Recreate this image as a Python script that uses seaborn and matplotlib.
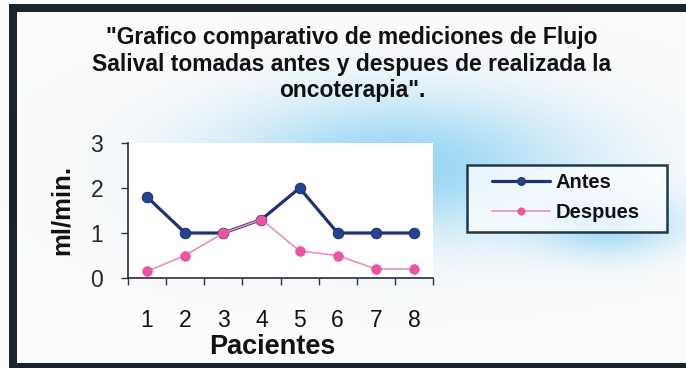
import numpy as np
import matplotlib
matplotlib.use('Agg')
import matplotlib.pyplot as plt
import seaborn as sns
from matplotlib.patches import Rectangle

# ---- data ----
pacientes = [1, 2, 3, 4, 5, 6, 7, 8]
antes = [1.8, 1.0, 1.0, 1.3, 2.0, 1.0, 1.0, 1.0]
despues = [0.15, 0.5, 1.0, 1.3, 0.6, 0.5, 0.2, 0.2]
series_names = ["Antes", "Despues"]
yticks = [0, 1, 2, 3]
title = ('"Grafico comparativo de mediciones de Flujo\n'
         'Salival tomadas antes y despues de realizada la\n'
         'oncoterapia".')
xlabel = "Pacientes"
ylabel = "ml/min."

sns.set_theme(style="white")
plt.rcParams['font.family'] = ['Liberation Sans', 'DejaVu Sans']

W, H = 686, 368
fig = plt.figure(figsize=(W / 100, H / 100), dpi=100)
fig.patch.set_facecolor('white')

# soft blue glow background
bg = fig.add_axes([0, 0, 1, 1], zorder=0)
yy, xx = np.mgrid[0:H, 0:W]
g1 = np.exp(-(((xx - 400) / 180.0) ** 2 + ((yy - 165) / 70.0) ** 2))
g2 = np.exp(-(((xx - 610) / 70.0) ** 2 + ((yy - 225) / 30.0) ** 2)) * 0.8
g = np.clip(g1 + g2, 0, 1)
blue = np.array([0.60, 0.84, 0.96])
white = np.array([0.985, 0.985, 0.985])
img = white[None, None, :] * (1 - g[..., None]) + blue[None, None, :] * g[..., None]
bg.imshow(img, extent=[0, W, H, 0], aspect='auto', interpolation='bilinear')
bg.set_xlim(0, W)
bg.set_ylim(H, 0)
bg.axis('off')

# main axes
ax = fig.add_axes([128 / W, 1 - 278 / H, (433 - 128) / W, (278 - 143) / H], zorder=2)
ax.set_facecolor('white')

c_antes = '#1f3272'
c_antes_m = '#24448f'
c_desp = '#e88fbf'
c_desp_m = '#e9559f'

sns.lineplot(x=pacientes, y=antes, ax=ax, color=c_antes, lw=2.3, marker='o',
             markersize=7.5, markerfacecolor=c_antes_m, markeredgecolor=c_antes,
             markeredgewidth=0.8, label=series_names[0], legend=False)
sns.lineplot(x=pacientes, y=despues, ax=ax, color=c_desp, lw=1.2, marker='o',
             markersize=7, markerfacecolor=c_desp_m, markeredgecolor=c_desp_m,
             markeredgewidth=0.5, label=series_names[1], legend=False)

ax.set_xlim(0.5, 8.5)
ax.set_ylim(0, 3)
ax.set_yticks(yticks)
ax.set_xticks(pacientes)
ax.set_xticks(np.arange(0.5, 9.0, 1.0), minor=True)
ax.set_xticklabels([str(p) for p in pacientes])
ax.set_yticklabels([str(t) for t in yticks])
ax.tick_params(axis='x', which='major', length=0, pad=22, labelsize=16.5, colors='#111111')
ax.tick_params(axis='x', which='minor', length=5, width=1, direction='out', color='#333344', bottom=True)
ax.tick_params(axis='y', which='major', length=5, width=1, direction='out', color='#333344',
               pad=13, labelsize=16.5, left=True)
for s in ['top', 'right']:
    ax.spines[s].set_visible(False)
for s in ['left', 'bottom']:
    ax.spines[s].set_color('#2a2a40')
    ax.spines[s].set_linewidth(1.2)
ax.set_xlabel('')
ax.set_ylabel('')

# labels
fig.text(352 / W, 1 - 64 / H, title, ha='center', va='center', multialignment='center',
         fontsize=16.5, fontweight='bold', color='#111111', linespacing=1.2, zorder=3)
fig.text(272 / W, 1 - 347 / H, xlabel, ha='center', va='center', fontsize=19.5,
         fontweight='bold', color='#111111', zorder=3)
fig.text(62 / W, 1 - 210 / H, ylabel, ha='center', va='center', rotation=90, fontsize=18.5,
         fontweight='bold', color='#111111', zorder=3)

# legend box
fig.patches.append(Rectangle((467 / W, 1 - 232 / H), 200 / W, 67 / H, transform=fig.transFigure,
                             facecolor=(1, 1, 1, 0.75), edgecolor='#1e3a4a', lw=1.8, zorder=3))
handles, labels = ax.get_legend_handles_labels()
leg = fig.legend(handles, labels, loc='upper left', bbox_to_anchor=(492 / W, 1 - 173 / H),
                 frameon=False, fontsize=14.5, handlelength=2.9, handletextpad=0.25,
                 labelspacing=0.55, borderaxespad=0, borderpad=0, markerscale=0.75)
for t in leg.get_texts():
    t.set_fontweight('bold')
    t.set_color('#111111')
leg.set_zorder(4)

# scanned frame border (left, top, bottom)
dark = '#1c2329'
fig.patches.append(Rectangle((9 / W, 0), 8 / W, 1 - 4 / H, transform=fig.transFigure,
                             facecolor=dark, edgecolor='none', zorder=5))
fig.patches.append(Rectangle((9 / W, 1 - 12 / H), 1, 8 / H, transform=fig.transFigure,
                             facecolor=dark, edgecolor='none', zorder=5))
fig.patches.append(Rectangle((9 / W, 0), 1, 5 / H, transform=fig.transFigure,
                             facecolor=dark, edgecolor='none', zorder=5))

fig.savefig('out.png', dpi=100)
